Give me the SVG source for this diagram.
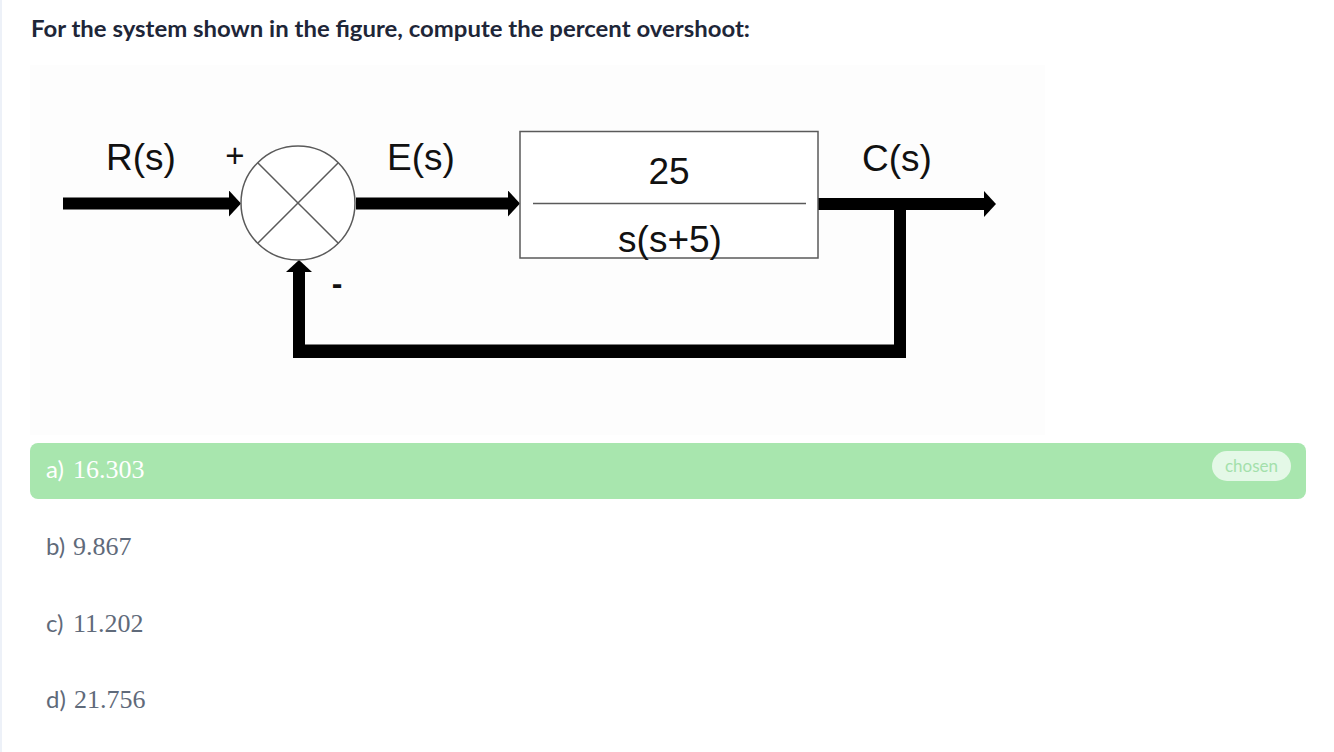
<svg xmlns="http://www.w3.org/2000/svg" width="1334" height="752" viewBox="0 0 1334 752">
  <style>
    .title { font-family: Lato, "Noto Sans", sans-serif; font-weight: 700; font-size: 23px; fill: #1e2638; }
    .lbl { font-family: "Liberation Sans", Arial, sans-serif; font-size: 37px; fill: #111; }
    .thin { fill: none; stroke: #5a5a5a; stroke-width: 1.5; }
    .wire { fill: none; stroke: #000; stroke-width: 12; stroke-linejoin: miter; }
    .optk { font-family: Lato, "Noto Sans", sans-serif; font-size: 24px; }
    .optv { font-family: "Liberation Serif", "Times New Roman", serif; font-size: 26px; }
    .opt { fill: #5f6a7a; }
    .sel { fill: #ffffff; }
  </style>
  <defs>
    <marker id="ah" viewBox="0 0 12 26" refX="0" refY="13" markerWidth="12" markerHeight="26" markerUnits="userSpaceOnUse" orient="auto">
      <path d="M0,0 L12,13 L0,26 Z" fill="#000"/>
    </marker>
  </defs>

  <rect x="0" y="0" width="1334" height="752" fill="#ffffff"/>
  <rect x="0" y="0" width="2" height="752" fill="#edf1f8"/>
  <rect x="30" y="65" width="1015" height="370" fill="#fdfdfd"/>

  <text class="title" x="31" y="37" textLength="719" lengthAdjust="spacingAndGlyphs">For the system shown in the figure, compute the percent overshoot:</text>

  <g id="connectors">
    <path class="wire" d="M63,203.5 H229" marker-end="url(#ah)"/>
    <path class="wire" d="M356,203.5 H508" marker-end="url(#ah)"/>
    <path class="wire" d="M818,204 H984" marker-end="url(#ah)"/>
    <path class="wire" d="M900,204 V352 H299 V272" marker-end="url(#ah)"/>
    <path d="M299,345.5 H906" stroke="#000" stroke-width="2" fill="none"/>
  </g>

  <g id="summing-junction">
    <circle class="thin" cx="298" cy="203" r="57" style="fill:#ffffff"/>
    <line class="thin" x1="257.7" y1="162.7" x2="338.3" y2="243.3"/>
    <line class="thin" x1="338.3" y1="162.7" x2="257.7" y2="243.3"/>
  </g>

  <g id="plant-block">
    <rect class="thin" x="520" y="131.5" width="298" height="126.5" style="fill:#ffffff"/>
    <line class="thin" x1="533" y1="203.5" x2="806" y2="203.5"/>
    <text class="lbl" x="669" y="184" text-anchor="middle">25</text>
    <text class="lbl" x="670" y="252" text-anchor="middle">s(s+5)</text>
  </g>

  <g id="labels">
    <text class="lbl" x="141" y="170" text-anchor="middle">R(s)</text>
    <text class="lbl" x="421" y="170" text-anchor="middle">E(s)</text>
    <text class="lbl" x="897" y="171" text-anchor="middle">C(s)</text>
    <text class="lbl" x="235" y="167" text-anchor="middle" style="font-size:33px">+</text>
    <text class="lbl" x="337" y="294" text-anchor="middle" style="font-size:32px;font-weight:bold">-</text>
  </g>

  <g id="option-a">
    <rect x="30" y="443" width="1276" height="56" rx="8" fill="#a8e6ae"/>
    <text x="46" y="478" class="sel"><tspan class="optk">a)</tspan><tspan class="optv" x="73">16.303</tspan></text>
    <rect x="1212" y="451" width="79" height="30" rx="15" fill="#e4f8e7"/>
    <text x="1251.5" y="472" text-anchor="middle" style="font-family: Lato, 'Noto Sans', sans-serif; font-size:17px; fill:#a3e0ab">chosen</text>
  </g>
  <g id="option-b">
    <text x="46" y="555" class="opt"><tspan class="optk">b)</tspan><tspan class="optv" x="73">9.867</tspan></text>
  </g>
  <g id="option-c">
    <text x="46" y="632" class="opt"><tspan class="optk">c)</tspan><tspan class="optv" x="73">11.202</tspan></text>
  </g>
  <g id="option-d">
    <text x="46" y="708" class="opt"><tspan class="optk">d)</tspan><tspan class="optv" x="74">21.756</tspan></text>
  </g>
</svg>
